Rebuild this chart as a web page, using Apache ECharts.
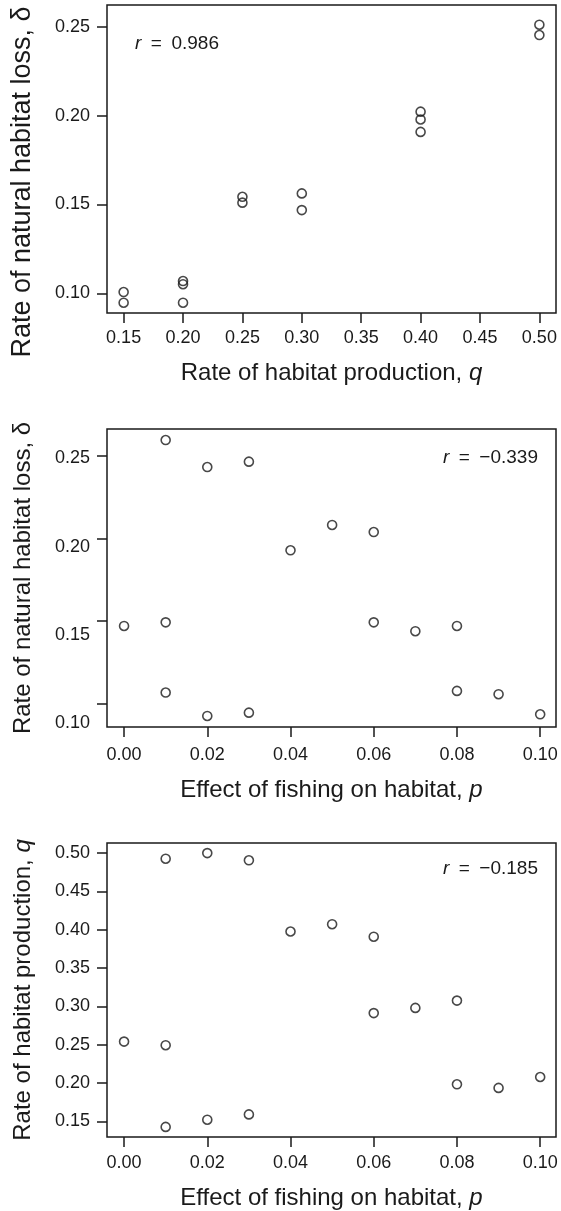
<!DOCTYPE html>
<html>
<head>
<meta charset="utf-8">
<script src="https://cdn.jsdelivr.net/npm/echarts@6/dist/echarts.min.js"></script>
<style>
html,body{margin:0;padding:0;background:#fff;}
#chart{width:561px;height:1211px;}
</style>
</head>
<body>
<div id="chart"></div>
<script>
// ---- Data ----
// Panel 1: rate of habitat production q vs rate of natural habitat loss delta
var q1 = [0.15, 0.15, 0.20, 0.20, 0.20, 0.25, 0.25, 0.30, 0.30, 0.40, 0.40, 0.40, 0.50, 0.50];
var delta1 = [0.1007, 0.0947, 0.1069, 0.1051, 0.0947, 0.1543, 0.1510, 0.1562, 0.1468, 0.2022, 0.1978, 0.1908, 0.2511, 0.2453];

// Panel 2: effect of fishing p vs delta
var p2 = [0.00, 0.01, 0.01, 0.01, 0.02, 0.02, 0.03, 0.03, 0.04, 0.05, 0.06, 0.06, 0.07, 0.08, 0.08, 0.09, 0.10];
var delta2 = [0.1469, 0.2597, 0.1491, 0.1065, 0.2433, 0.0923, 0.2466, 0.0943, 0.1928, 0.2082, 0.2039, 0.1491, 0.1437, 0.1469, 0.1075, 0.1055, 0.0933];

// Panel 3: effect of fishing p vs q
var p3 = [0.00, 0.01, 0.01, 0.01, 0.02, 0.02, 0.03, 0.03, 0.04, 0.05, 0.06, 0.06, 0.07, 0.08, 0.08, 0.09, 0.10];
var q3 = [0.254, 0.4927, 0.2493, 0.1427, 0.500, 0.1521, 0.4906, 0.1590, 0.3977, 0.4072, 0.3909, 0.2912, 0.2980, 0.3075, 0.1983, 0.1936, 0.2078];

// Tick values
var xTicks1 = [0.15, 0.20, 0.25, 0.30, 0.35, 0.40, 0.45, 0.50];
var yTicks1 = [0.10, 0.15, 0.20, 0.25];
var xTicksP = [0.00, 0.02, 0.04, 0.06, 0.08, 0.10];
var yTicks2 = [0.10, 0.15, 0.20, 0.25];
var yTicks3 = [0.15, 0.20, 0.25, 0.30, 0.35, 0.40, 0.45, 0.50];

// Correlation labels
var rLabels = ['0.986', '\u22120.339', '\u22120.185'];

// Axis titles
var titleQ = 'Rate of habitat production, {i|q}';
var titleDelta = 'Rate of natural habitat loss, \u03b4';
var titleP = 'Effect of fishing on habitat, {i|p}';

function zip(a, b) { return a.map(function (v, i) { return [v, b[i]]; }); }

var FONT = '"Liberation Sans", Arial, Helvetica, sans-serif';
var INK = '#1a1a1a';

function fmt(v) { return Number(v).toFixed(2); }

function xAxis(gi, min, max, ticks, name, labelMargin, nameGap) {
  return {
    type: 'value', gridIndex: gi, min: min, max: max, position: 'bottom',
    axisLine: { show: false, onZero: false },
    splitLine: { show: false },
    axisTick: { show: true, inside: false, length: 10, customValues: ticks, lineStyle: { color: INK, width: 1.5 } },
    axisLabel: { show: true, customValues: ticks, formatter: fmt, margin: labelMargin, fontSize: 18, color: INK, fontFamily: FONT },
    name: name, nameLocation: 'middle', nameGap: nameGap,
    nameTextStyle: { fontSize: 24, color: INK, fontFamily: FONT, verticalAlign: 'top',
      rich: { i: { fontStyle: 'italic', fontSize: 24, color: INK, fontFamily: FONT } } }
  };
}

function yAxis(gi, min, max, ticks, name, showLabels, nameSize, nameGap, namePad) {
  return {
    type: 'value', gridIndex: gi, min: min, max: max, position: 'left',
    axisLine: { show: false, onZero: false },
    splitLine: { show: false },
    axisTick: { show: true, inside: false, length: 10, customValues: ticks, lineStyle: { color: INK, width: 1.5 } },
    axisLabel: { show: showLabels, customValues: ticks, formatter: fmt, margin: 17, fontSize: 18, color: INK, fontFamily: FONT },
    name: name, nameLocation: 'middle', nameGap: nameGap,
    nameTextStyle: { fontSize: nameSize, color: INK, fontFamily: FONT, padding: namePad || 0,
      rich: { i: { fontStyle: 'italic', fontSize: nameSize, color: INK, fontFamily: FONT } } }
  };
}

var gridBase = { left: 107, width: 449, show: true, borderColor: INK, borderWidth: 1.5, backgroundColor: 'transparent' };

function scatter(xi, yi, data) {
  return {
    type: 'scatter', xAxisIndex: xi, yAxisIndex: yi, data: data,
    symbol: 'circle', symbolSize: 9,
    itemStyle: { color: 'rgba(0,0,0,0)', borderColor: INK, borderWidth: 1.6 },
    emphasis: { disabled: true }, animation: false
  };
}

function rText(x, y, align, val) {
  return {
    type: 'text', x: x, y: y,
    style: {
      text: '{i|r}\u2002=\u2002' + val,
      x: 0, y: 0,
      align: align, verticalAlign: 'middle',
      fontSize: 19, fill: INK, fontFamily: FONT,
      rich: { i: { fontStyle: 'italic', fontSize: 19, fill: INK, fontFamily: FONT } }
    }
  };
}

var option = {
  backgroundColor: '#fff',
  animation: false,
  grid: [
    Object.assign({ top: 5, height: 308 }, gridBase),
    Object.assign({ top: 429, height: 298 }, gridBase),
    Object.assign({ top: 843, height: 299 }, gridBase)
  ],
  xAxis: [
    xAxis(0, 0.136, 0.514, xTicks1, titleQ, 16, 48),
    xAxis(1, -0.0041, 0.1038, xTicksP, titleP, 19, 51),
    xAxis(2, -0.0041, 0.1038, xTicksP, titleP, 17, 49)
  ],
  yAxis: [
    yAxis(0, 0.0889, 0.2622, yTicks1, titleDelta, true, 27, 71, [0, 46, 0, 0]),
    yAxis(1, 0.0856, 0.2664, yTicks2, titleDelta, false, 24, 72),
    yAxis(2, 0.1295, 0.5132, yTicks3, titleQ, true, 24, 72),
    // label-only axis for panel 2 (labels in the reference sit slightly off the ticks)
    {
      type: 'value', gridIndex: 1, min: 0.0979, max: 0.2666, position: 'left',
      axisLine: { show: false, onZero: false }, axisTick: { show: false }, splitLine: { show: false },
      axisLabel: { show: true, customValues: yTicks2, formatter: fmt, margin: 17, fontSize: 18, color: INK, fontFamily: FONT }
    }
  ],
  series: [
    scatter(0, 0, zip(q1, delta1)),
    scatter(1, 1, zip(p2, delta2)),
    scatter(2, 2, zip(p3, q3))
  ],
  graphic: [
    rText(135, 44, 'left', rLabels[0]),
    rText(538, 458, 'right', rLabels[1]),
    rText(538, 869, 'right', rLabels[2])
  ]
};

var chart = echarts.init(document.getElementById('chart'), null, { renderer: 'canvas' });
chart.setOption(option);
</script>
</body>
</html>
